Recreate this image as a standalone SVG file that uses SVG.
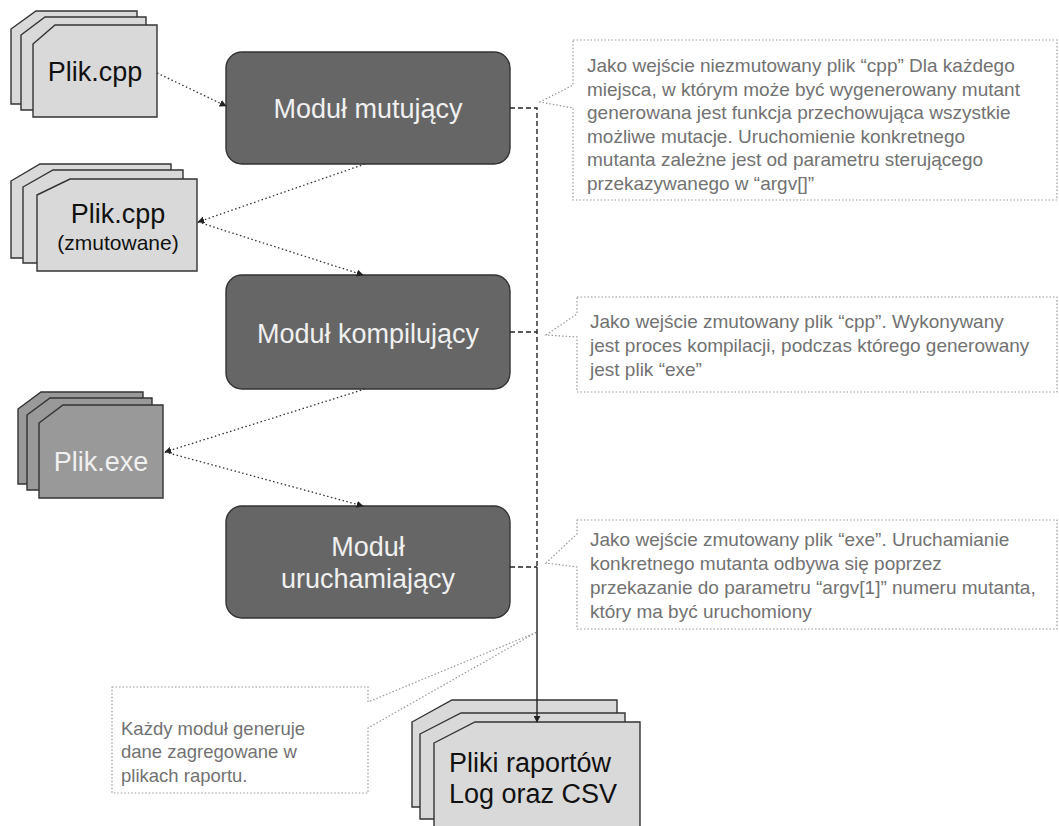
<svg xmlns="http://www.w3.org/2000/svg" width="1059" height="826" viewBox="0 0 1059 826">
<defs>
<marker id="ah" viewBox="0 0 10 10" refX="9" refY="5" markerWidth="7" markerHeight="7" markerUnits="userSpaceOnUse" orient="auto">
<path d="M0,0 L10,5 L0,10 Z" fill="#222"/>
</marker>
<style>
.card{fill:#d9d9d9;stroke:#333;stroke-width:1.4}
.cardd{fill:#999;stroke:#333;stroke-width:1.4}
.mod{fill:#666;stroke:#333;stroke-width:1.4}
.call{fill:#fff;stroke:#999;stroke-width:1.2;stroke-dasharray:1.5 2}
.dot{fill:none;stroke:#333;stroke-width:1.3;stroke-dasharray:1.5 2.5}
.dash{fill:none;stroke:#222;stroke-width:1.4;stroke-dasharray:5 3}
.solid{fill:none;stroke:#222;stroke-width:1.4}
text{font-family:"Liberation Sans",Arial,sans-serif}
.big{font-size:27px;fill:#111}
.bigl{font-size:27px;fill:#f0f0f0}
.small{font-size:21px;fill:#111}
.ct{font-size:19px;fill:#727272}
</style>
</defs>
<rect width="1059" height="826" fill="#fff"/>

<g id="plik-cpp">
<polygon class="card" points="11,29 36,11 137,11 137,104 11,104"/>
<polygon class="card" points="21,35 45,17 146,17 146,110 21,110"/>
<polygon class="card" points="33,44 55,25 157,25 157,117 33,117"/>
<text class="big" x="95" y="81" text-anchor="middle">Plik.cpp</text>
</g>

<g id="modul-mutujacy">
<rect class="mod" x="226" y="52" width="284" height="112" rx="16"/>
<text class="bigl" x="368" y="118" text-anchor="middle">Moduł mutujący</text>
</g>

<g id="callout-1">
<path class="call" d="M573,40 H1057 V200 H573 V108 L540,102 L573,85 Z"/>
<text class="ct">
<tspan x="587" y="72">Jako wejście niezmutowany plik “cpp” Dla każdego</tspan>
<tspan x="587" y="95.5">miejsca, w którym może być wygenerowany mutant</tspan>
<tspan x="587" y="119">generowana jest funkcja przechowująca wszystkie</tspan>
<tspan x="587" y="142.5">możliwe mutacje. Uruchomienie konkretnego</tspan>
<tspan x="587" y="166">mutanta zależne jest od parametru sterującego</tspan>
<tspan x="587" y="189.5">przekazywanego w “argv[]”</tspan>
</text>
</g>

<g id="plik-cpp-zmutowane">
<polygon class="card" points="11,181 40,164 171,164 171,258 11,258"/>
<polygon class="card" points="23,187 53,170 183,170 183,263 23,263"/>
<polygon class="card" points="37,195 70,179 197,179 197,271 37,271"/>
<text class="big" x="118" y="223" text-anchor="middle">Plik.cpp</text>
<text class="small" x="118" y="250" text-anchor="middle">(zmutowane)</text>
</g>

<g id="modul-kompilujacy">
<rect class="mod" x="226" y="275" width="284" height="114" rx="16"/>
<text class="bigl" x="368" y="343" text-anchor="middle">Moduł kompilujący</text>
</g>

<g id="callout-2">
<path class="call" d="M577,297 H1057 V392 H577 V337 L546,335 L577,314 Z"/>
<text class="ct">
<tspan x="590" y="328">Jako wejście zmutowany plik “cpp”. Wykonywany</tspan>
<tspan x="590" y="352">jest proces kompilacji, podczas którego generowany</tspan>
<tspan x="590" y="376">jest plik “exe”</tspan>
</text>
</g>

<g id="plik-exe">
<polygon class="cardd" points="18,409 41,392 143,392 143,484 18,484"/>
<polygon class="cardd" points="27,415 50,398 152,398 152,490 27,490"/>
<polygon class="cardd" points="39,423 63,405 163,405 163,498 39,498"/>
<text class="bigl" x="101" y="471" text-anchor="middle">Plik.exe</text>
</g>

<g id="modul-uruchamiajacy">
<rect class="mod" x="226" y="506" width="284" height="112" rx="16"/>
<text class="bigl" x="368" y="556" text-anchor="middle">Moduł</text>
<text class="bigl" x="368" y="588" text-anchor="middle">uruchamiający</text>
</g>

<g id="callout-3">
<path class="call" d="M577,520 H1057 V629 H577 V567 L546,563 L577,534 Z"/>
<text class="ct">
<tspan x="590" y="546">Jako wejście zmutowany plik “exe”. Uruchamianie</tspan>
<tspan x="590" y="570">konkretnego mutanta odbywa się poprzez</tspan>
<tspan x="590" y="594">przekazanie do parametru “argv[1]” numeru mutanta,</tspan>
<tspan x="590" y="618">który ma być uruchomiony</tspan>
</text>
</g>

<g id="callout-4">
<path class="call" d="M112,687 H368 V702 L537,632 L368,728 V793 H112 Z"/>
<text class="ct" style="font-size:18.5px">
<tspan x="121" y="735">Każdy moduł generuje</tspan>
<tspan x="121" y="758">dane zagregowane w</tspan>
<tspan x="121" y="782">plikach raportu.</tspan>
</text>
</g>

<g id="pliki-raportow">
<polygon class="card" points="412,722 452,700 617,700 617,807 412,807"/>
<polygon class="card" points="420,734 461,713 625,713 625,819 420,819"/>
<polygon class="card" points="434,743 475,722 640,722 640,840 434,840"/>
<text class="big" x="449" y="772">Pliki raportów</text>
<text class="big" x="449" y="803">Log oraz CSV</text>
</g>

<g id="connectors">
<line class="dot" x1="157" y1="73" x2="226" y2="106" marker-end="url(#ah)"/>
<line class="dot" x1="365" y1="164" x2="198" y2="222" marker-end="url(#ah)"/>
<line class="dot" x1="198" y1="222" x2="363" y2="275" marker-end="url(#ah)"/>
<line class="dot" x1="365" y1="389" x2="165" y2="452" marker-end="url(#ah)"/>
<line class="dot" x1="165" y1="452" x2="363" y2="506" marker-end="url(#ah)"/>
<path class="dash" d="M510,108 H537 V567"/>
<path class="dash" d="M510,332 H537"/>
<path class="dash" d="M510,567 H537"/>
<line class="solid" x1="537" y1="567" x2="537" y2="722" marker-end="url(#ah)"/>
</g>
</svg>
